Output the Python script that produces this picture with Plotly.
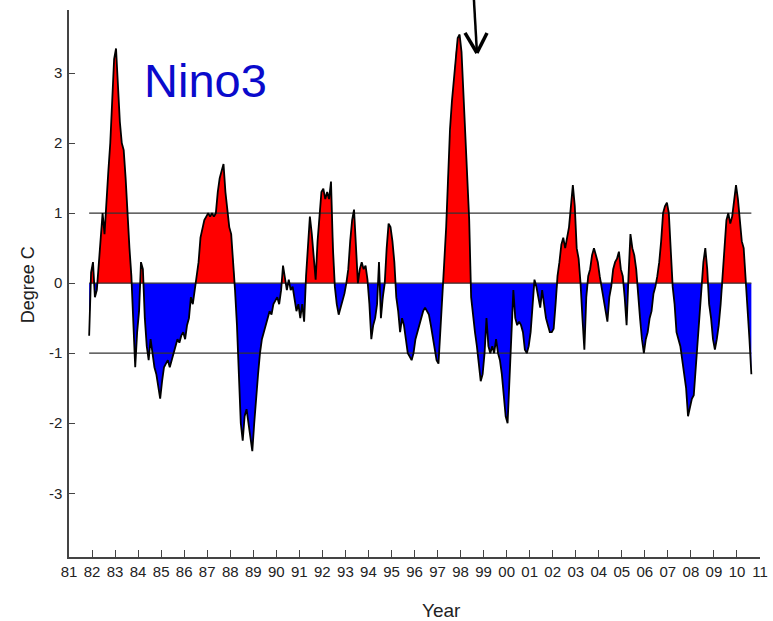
import numpy as np
import plotly.graph_objects as go

# Monthly Nino3 SST anomaly (degree C), starting Nov 1981
start_year = 1981
start_month = 11
nino3_1981_1990 = [
    -0.75, 0.15,
    0.3, -0.2, -0.1, 0.3, 0.65, 1.0, 0.7, 1.2, 1.6, 2.0, 2.6, 3.2,
    3.35, 2.7, 2.3, 2.0, 1.9, 1.5, 0.9, 0.5, 0.1, -0.6, -1.2, -0.7,
    -0.4, 0.3, 0.2, -0.5, -0.9, -1.1, -0.8, -1.0, -1.2, -1.3, -1.5, -1.65,
    -1.4, -1.2, -1.15, -1.1, -1.2, -1.1, -1.0, -0.9, -0.8, -0.85, -0.75, -0.7,
    -0.8, -0.6, -0.5, -0.2, -0.3, -0.1, 0.1, 0.3, 0.65, 0.8, 0.9, 0.95,
    1.0, 0.95, 1.0, 0.95, 1.0, 1.3, 1.5, 1.6, 1.7, 1.3, 1.0, 0.8,
    0.7, 0.35, -0.1, -0.6, -1.3, -2.0, -2.25, -1.9, -1.8, -2.0, -2.2, -2.4,
    -2.0, -1.6, -1.3, -1.0, -0.8, -0.7, -0.6, -0.5, -0.4, -0.45, -0.3, -0.25,
    -0.2, -0.3, -0.1, 0.25, 0.1, -0.1, 0.05, -0.1, -0.05, -0.2, -0.4, -0.3,
]
nino3_1991_2000 = [
    -0.5, -0.3, -0.55, 0.1, 0.5, 0.95, 0.7, 0.4, 0.05, 0.6, 1.0, 1.3,
    1.35, 1.2, 1.3, 1.2, 1.45, 0.5, -0.05, -0.3, -0.45, -0.35, -0.25, -0.15,
    0.0, 0.2, 0.6, 0.9, 1.05, 0.6, 0.0, 0.2, 0.3, 0.2, 0.25, 0.05,
    -0.3, -0.8, -0.6, -0.5, -0.3, 0.3, -0.5, -0.2, 0.0, 0.5, 0.85, 0.8,
    0.6, 0.3, -0.2, -0.4, -0.7, -0.5, -0.6, -0.8, -1.0, -1.05, -1.1, -1.0,
    -0.8, -0.7, -0.6, -0.5, -0.4, -0.35, -0.4, -0.45, -0.6, -0.75, -0.9, -1.1,
    -1.15, -0.6, -0.2, 0.3, 0.8, 1.6, 2.2, 2.6, 2.9, 3.3, 3.5, 3.55,
    3.3, 2.7, 2.1, 1.6, 0.9, -0.2, -0.5, -0.7, -0.9, -1.2, -1.4, -1.3,
    -1.0, -0.5, -0.9, -1.0, -0.9, -1.0, -0.8, -1.0, -1.1, -1.3, -1.6, -1.9,
    -2.0, -1.4, -0.8, -0.1, -0.5, -0.6, -0.55, -0.6, -0.7, -0.95, -1.0, -0.9,
]
nino3_2001_2010 = [
    -0.7, -0.3, 0.05, -0.05, -0.2, -0.35, -0.1, -0.3, -0.5, -0.6, -0.7, -0.7,
    -0.65, -0.3, 0.1, 0.3, 0.55, 0.65, 0.5, 0.65, 0.8, 1.1, 1.4, 1.1,
    0.5, 0.35, 0.0, -0.5, -0.95, -0.2, 0.1, 0.2, 0.4, 0.5, 0.4, 0.3,
    0.1, -0.05, -0.2, -0.35, -0.55, -0.2, -0.05, 0.2, 0.3, 0.35, 0.45, 0.2,
    0.1, -0.2, -0.6, 0.1, 0.7, 0.5, 0.4, 0.2, -0.2, -0.5, -0.8, -1.0,
    -0.8, -0.7, -0.5, -0.4, -0.15, -0.05, 0.1, 0.3, 0.6, 1.0, 1.1, 1.15,
    1.0, 0.5, -0.05, -0.3, -0.7, -0.8, -0.9, -1.1, -1.3, -1.5, -1.9, -1.75,
    -1.65, -1.6, -1.2, -0.8, -0.4, -0.1, 0.3, 0.5, 0.2, -0.3, -0.5, -0.8,
    -0.95, -0.8, -0.6, -0.3, 0.1, 0.5, 0.9, 1.0, 0.85, 0.95, 1.15, 1.4,
    1.2, 0.9, 0.6, 0.5, 0.1, -0.3, -0.8, -1.3,
]
threshold_levels = [1, 0, -1]
x_tick_years = list(range(1981, 2012))
x_tick_labels = [f"{y % 100:02d}" for y in x_tick_years]
y_tick_vals = [-3, -2, -1, 0, 1, 2, 3]
y_tick_labels = ["-3", "-2", "-1", "0", "1", "2", "3"]

vals = np.array(nino3_1981_1990 + nino3_1991_2000 + nino3_2001_2010, dtype=float)
t = start_year + (start_month - 1 + 0.5 + np.arange(len(vals))) / 12.0

# insert zero crossings for clean two-colour fill
xs, ys = [t[0]], [vals[0]]
for i in range(1, len(vals)):
    y0, y1 = vals[i - 1], vals[i]
    if y0 * y1 < 0:
        xc = t[i - 1] + (t[i] - t[i - 1]) * (-y0) / (y1 - y0)
        xs.append(xc); ys.append(0.0)
    xs.append(t[i]); ys.append(y1)
xs = np.array(xs); ys = np.array(ys)
pos = np.where(ys > 0, ys, 0.0)
neg = np.where(ys < 0, ys, 0.0)

fig = go.Figure()
fig.add_trace(go.Scatter(x=xs, y=pos, mode="lines", line=dict(width=0, color="red"),
                         fill="tozeroy", fillcolor="#ff0000", hoverinfo="skip"))
fig.add_trace(go.Scatter(x=xs, y=neg, mode="lines", line=dict(width=0, color="blue"),
                         fill="tozeroy", fillcolor="#0000ff", hoverinfo="skip"))
for lvl in threshold_levels:
    fig.add_trace(go.Scatter(x=[t[0], t[-1]], y=[lvl, lvl], mode="lines",
                             line=dict(color="#333333", width=1.2), hoverinfo="skip"))
fig.add_trace(go.Scatter(x=t, y=vals, mode="lines", line=dict(color="black", width=1.8)))

tick_font = dict(family="Liberation Sans Narrow, Arial Narrow, Liberation Sans, Arial", size=15, color="#222222")
fig.update_layout(
    width=773, height=621,
    margin=dict(l=69, r=13, t=10, b=64, autoexpand=False),
    paper_bgcolor="white", plot_bgcolor="white",
    showlegend=False,
    xaxis=dict(range=[1981, 2011], tickvals=x_tick_years, ticktext=x_tick_labels,
               ticks="inside", ticklen=7, tickwidth=1.2, tickcolor="#444444",
               showline=True, linecolor="#444444", linewidth=1.5, automargin=False,
               showgrid=False, zeroline=False, tickfont=tick_font, ticklabelstandoff=0),
    yaxis=dict(range=[-3.91, 3.9], tickvals=y_tick_vals, ticktext=y_tick_labels,
               ticks="inside", ticklen=6, tickwidth=1.2, tickcolor="#444444",
               showline=True, linecolor="#444444", linewidth=1.5, automargin=False,
               showgrid=False, zeroline=False, tickfont=tick_font, ticklabelstandoff=2),
    annotations=[
        dict(text="Nino3", xref="paper", yref="paper", x=0.106, y=0.872,
             xanchor="left", yanchor="middle", showarrow=False,
             font=dict(family="Liberation Sans, Arial", size=47, color="#0a0acc")),
        dict(text="Degree C", xref="paper", yref="paper", x=-0.0593, y=0.497,
             xanchor="center", yanchor="middle", textangle=-90, showarrow=False,
             font=dict(family="Liberation Sans, Arial", size=18, color="#222222")),
        dict(text="Year", xref="paper", yref="paper", x=0.539, y=-0.0987,
             xanchor="center", yanchor="middle", showarrow=False,
             font=dict(family="Liberation Sans, Arial", size=19, color="#222222")),
    ],
    shapes=[
        dict(type="line", xref="paper", yref="paper", x0=0.586, y0=1.0183, x1=0.5904, y1=0.9214,
             line=dict(color="black", width=2.5)),
        dict(type="line", xref="paper", yref="paper", x0=0.5731, y0=0.958, x1=0.5904, y1=0.9214,
             line=dict(color="black", width=3.5)),
        dict(type="line", xref="paper", yref="paper", x0=0.6049, y0=0.958, x1=0.5904, y1=0.9214,
             line=dict(color="black", width=3.5)),
    ],
)
fig.write_html("out.html", config={"displayModeBar": False},
               post_script="document.body.style.margin='0px';document.body.style.overflow='hidden';")
